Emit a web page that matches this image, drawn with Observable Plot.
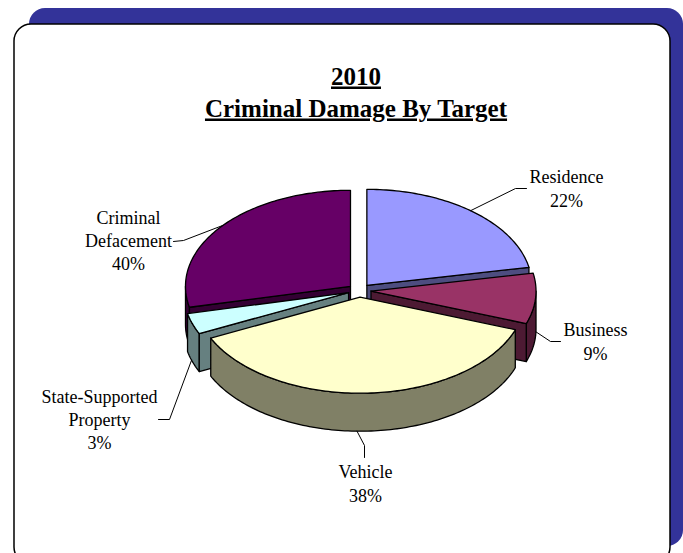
<!DOCTYPE html>
<html>
<head>
<meta charset="utf-8">
<script src="https://cdn.jsdelivr.net/npm/d3@7"></script>
<script src="https://cdn.jsdelivr.net/npm/@observablehq/plot@0.6"></script>
<style>
html,body{margin:0;padding:0;background:#fff;overflow:hidden}
</style>
</head>
<body>
<div id="chart"></div>
<script>
// Data
const titleLines = ["2010", "Criminal Damage By Target"];
const categories = ["Residence", "Business", "Vehicle", "State-Supported\nProperty", "Criminal\nDefacement"];
const labelPercents = [22, 9, 38, 3, 40];          // as printed on the labels
const sliceShares = [22, 8.5, 37.5, 3.5, 28.5];    // as drawn (the printed labels add to 112)
const topColors = ["#9999FF", "#993366", "#FFFFCC", "#CCFFFF", "#660066"];
const wallColors = ["#4D4D80", "#4D1A33", "#808066", "#668080", "#330033"];

// Layout
const W = 683, H = 553;
const pie = {cx: 359, cy: 290, a: 165, b: 96, depth: 38, explode: 0.07};
const labelAt = [
  {x: 566, y: 187, leader: {angle: 0.68, via: [[515, 188], [526, 188]]}},
  {x: 595, y: 340, leader: {angle: 1.6, bottom: true, via: [[550, 341], [560, 341]]}},
  {x: 365, y: 482, leader: {angle: 3.16, bottom: true, via: [[364, 445], [364, 457]]}},
  {x: 99,  y: 418, leader: {angle: 4.4, bottom: true, via: [[169, 419], [158, 419]]}},
  {x: 128, y: 239, leader: {angle: 5.4, via: [[183, 240], [173, 241]]}}
];
const paintOrder = [4, 0, 1, 3, 2];

const arcs = d3.pie().sort(null).value(d => d)(sliceShares);

function slicePoint(i, t, low = 0) {
  const mid = (arcs[i].startAngle + arcs[i].endAngle) / 2;
  const ox = pie.cx + pie.explode * pie.a * Math.sin(mid);
  const oy = pie.cy - pie.explode * pie.b * Math.cos(mid);
  return {x: ox + pie.a * Math.sin(t), y: oy - pie.b * Math.cos(t) + low};
}
function apex(i, low = 0) {
  const mid = (arcs[i].startAngle + arcs[i].endAngle) / 2;
  return {x: pie.cx + pie.explode * pie.a * Math.sin(mid),
          y: pie.cy - pie.explode * pie.b * Math.cos(mid) + low};
}
function arcPoints(i, t0, t1, low = 0) {
  const n = Math.max(2, Math.ceil((t1 - t0) / 0.02));
  return d3.range(n + 1).map(k => slicePoint(i, t0 + (t1 - t0) * k / n, low));
}
const closed = pts => [...pts, pts[0]];
function face(pts, fill) {
  return Plot.line(closed(pts), {x: "x", y: "y", fill, stroke: "#000", strokeWidth: 1.3, curve: "linear", strokeLinejoin: "round"});
}

const sliceMarks = paintOrder.flatMap(i => {
  const {startAngle: s, endAngle: e} = arcs[i];
  const marks = [];
  // outer wall (only the part that faces the viewer)
  const w0 = Math.max(s, Math.PI / 2), w1 = Math.min(e, 3 * Math.PI / 2);
  if (w1 > w0) {
    marks.push(face([...arcPoints(i, w0, w1), ...arcPoints(i, w0, w1, pie.depth).reverse()], wallColors[i]));
  }
  // radial cut walls
  if (Math.sin(s) < -1e-6) {
    marks.push(face([apex(i), slicePoint(i, s), slicePoint(i, s, pie.depth), apex(i, pie.depth)], wallColors[i]));
  }
  if (Math.sin(e) > 1e-6) {
    marks.push(face([apex(i), slicePoint(i, e), slicePoint(i, e, pie.depth), apex(i, pie.depth)], wallColors[i]));
  }
  // top
  marks.push(face([apex(i), ...arcPoints(i, s, e)], topColors[i]));
  return marks;
});

const leaderMarks = labelAt.map((l, i) => {
  const start = slicePoint(i, l.leader.angle, l.leader.bottom ? pie.depth : 0);
  const pts = [start, ...l.leader.via.map(([x, y]) => ({x, y}))];
  return Plot.line(pts, {x: "x", y: "y", stroke: "#000", strokeWidth: 1, curve: "linear"});
});

const labels = categories.map((c, i) => ({text: `${c}\n${labelPercents[i]}%`, x: labelAt[i].x, y: labelAt[i].y}));

const chart = Plot.plot({
  width: W, height: H, margin: 0,
  x: {domain: [0, W], range: [0, W], axis: null},
  y: {domain: [0, H], range: [0, H], axis: null},
  style: {background: "#fff", fontFamily: "'Liberation Serif', serif", overflow: "hidden"},
  marks: [
    Plot.rect([{}], {x1: () => 29, x2: () => 683, y1: () => 8, y2: () => 546, fill: "#333399", rx: 16}),
    Plot.rect([{}], {x1: () => 14, x2: () => 670, y1: () => 24, y2: () => 564, fill: "#fff", stroke: "#000", strokeWidth: 1.5, rx: 17}),
    ...sliceMarks,
    ...leaderMarks,
    Plot.text(labels, {x: "x", y: "y", text: "text", fontSize: 18, fill: "#000", lineHeight: 1.3, textAnchor: "middle"}),
    Plot.text(titleLines, {x: () => 355.5, y: (d, i) => [76, 108][i], text: d => d, fontSize: 25, fontWeight: "bold", fill: "#000", textAnchor: "middle"})
  ]
});
d3.select(chart).selectAll("text").filter(function () {
  return titleLines.includes(this.textContent);
}).style("text-decoration", "underline");
document.getElementById("chart").append(chart);
</script>
</body>
</html>
